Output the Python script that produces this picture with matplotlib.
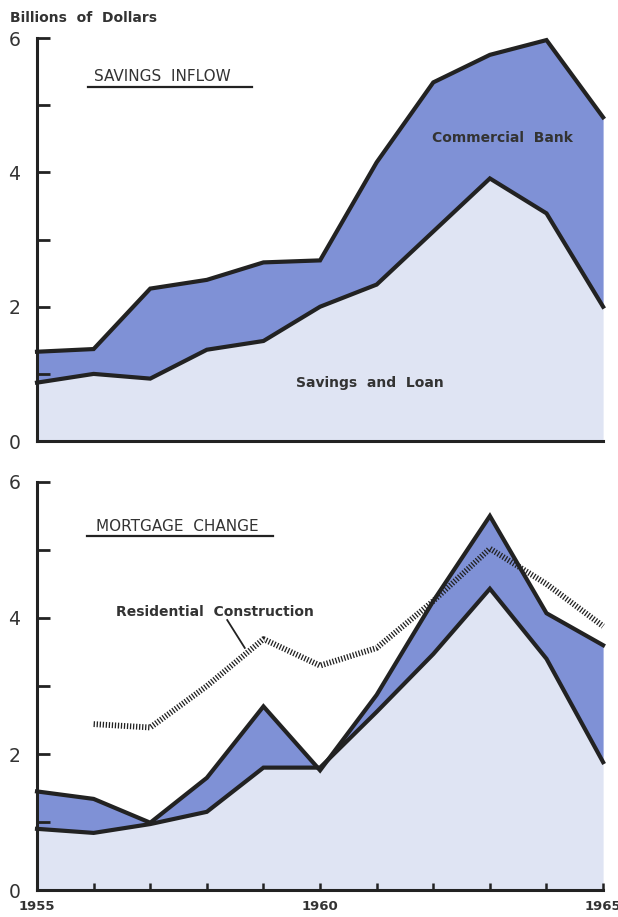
import matplotlib
matplotlib.use("Agg")
import matplotlib.pyplot as plt

# ---- data ----
years = [1955, 1956, 1957, 1958, 1959, 1960, 1961, 1962, 1963, 1964, 1965]

# Savings inflow (billions of dollars)
inflow_savings_loan = [0.87, 1.00, 0.93, 1.36, 1.49, 2.00, 2.33, 3.12, 3.91, 3.39, 2.00]
inflow_total = [1.33, 1.37, 2.27, 2.40, 2.66, 2.69, 4.15, 5.34, 5.75, 5.97, 4.82]

# Mortgage change (billions of dollars)
mort_savings_loan = [0.90, 0.84, 0.97, 1.15, 1.80, 1.80, 2.62, 3.47, 4.43, 3.40, 1.88]
mort_total = [1.45, 1.34, 0.99, 1.65, 2.70, 1.76, 2.87, 4.25, 5.50, 4.07, 3.60]

resid_years = [1956, 1957, 1958, 1959, 1960, 1961, 1962, 1963, 1964, 1965]
resid_construction = [2.44, 2.39, 3.00, 3.69, 3.30, 3.56, 4.25, 5.02, 4.50, 3.88]

y_ticks = [0, 1, 2, 3, 4, 5, 6]
y_labels = ["0", "", "2", "", "4", "", "6"]
x_ticks = list(range(1955, 1966))
x_labels = ["1955", "", "", "", "", "1960", "", "", "", "", "1965"]

# ---- style ----
LIGHT = "#dfe4f3"
DARK = "#7f91d6"
INK = "#222222"
TXT = "#333333"
LW = 3.0

plt.rcParams['font.family'] = ['DejaVu Sans']

fig = plt.figure(figsize=(6.18, 9.17), dpi=100)
ax1 = fig.add_axes([0.0599, 0.519, 0.916, 0.4395])
ax2 = fig.add_axes([0.0599, 0.0294, 0.916, 0.445])


def style_axis(ax, show_xticks):
    ax.set_xlim(1955, 1965)
    ax.set_ylim(0, 6)
    for s in ["top", "right"]:
        ax.spines[s].set_visible(False)
    for s in ["left", "bottom"]:
        ax.spines[s].set_linewidth(2.2)
        ax.spines[s].set_color(INK)
        ax.spines[s].set_capstyle("projecting")
    ax.set_yticks(y_ticks)
    ax.set_yticklabels(y_labels, fontsize=13.5, color=TXT)
    ax.tick_params(axis="y", direction="in", length=9.5, width=2.0,
                   color=INK, pad=12)
    if show_xticks:
        ax.set_xticks(x_ticks)
        ax.set_xticklabels(x_labels, fontsize=9.5, fontweight="bold",
                           color=TXT)
        ax.tick_params(axis="x", direction="in", length=5, width=1.8,
                       color=INK, pad=7)
    else:
        ax.set_xticks([])
    ax.set_facecolor("none")


# ---- top panel: savings inflow ----
ax1.fill_between(years, 0, inflow_savings_loan, color=LIGHT, lw=0)
ax1.fill_between(years, inflow_savings_loan, inflow_total, color=DARK, lw=0)
ax1.plot(years, inflow_savings_loan, color=INK, lw=LW, solid_joinstyle="miter",
         clip_on=False)
ax1.plot(years, inflow_total, color=INK, lw=LW, solid_joinstyle="miter",
         clip_on=False)
style_axis(ax1, False)

ax1.text(1956.0, 5.43, "SAVINGS  INFLOW", fontsize=11, color=TXT,
         va="center", ha="left")
ax1.plot([1955.9, 1958.8], [5.27, 5.27], color=INK, lw=1.6)
ax1.text(1963.23, 4.51, "Commercial  Bank", fontsize=10, fontweight="bold",
         color=TXT, ha="center", va="center")
ax1.text(1960.88, 0.86, "Savings  and  Loan", fontsize=10, fontweight="bold",
         color=TXT, ha="center", va="center")

fig.text(0.016, 0.980, "Billions  of  Dollars", fontsize=10, fontweight="bold",
         color=TXT, ha="left", va="center")

# ---- bottom panel: mortgage change ----
ax2.fill_between(years, 0, mort_savings_loan, color=LIGHT, lw=0)
ax2.fill_between(years, mort_savings_loan, mort_total, color=DARK, lw=0)
ax2.plot(years, mort_savings_loan, color=INK, lw=LW, solid_joinstyle="miter",
         clip_on=False)
ax2.plot(years, mort_total, color=INK, lw=LW, solid_joinstyle="miter",
         clip_on=False)
ax2.plot(resid_years, resid_construction, color=INK, lw=4.2,
         linestyle=(0, (0.22, 0.3)), dash_capstyle="butt", clip_on=False)
style_axis(ax2, True)

ax2.text(1956.05, 5.35, "MORTGAGE  CHANGE", fontsize=11, color=TXT,
         va="center", ha="left")
ax2.plot([1955.88, 1959.17], [5.21, 5.21], color=INK, lw=1.6)
ax2.text(1958.15, 4.09, "Residential  Construction", fontsize=10,
         fontweight="bold", color=TXT, ha="center", va="center")
ax2.plot([1958.36, 1958.67], [3.97, 3.56], color=INK, lw=1.3)

fig.savefig("out.png", dpi=100, facecolor="white")
